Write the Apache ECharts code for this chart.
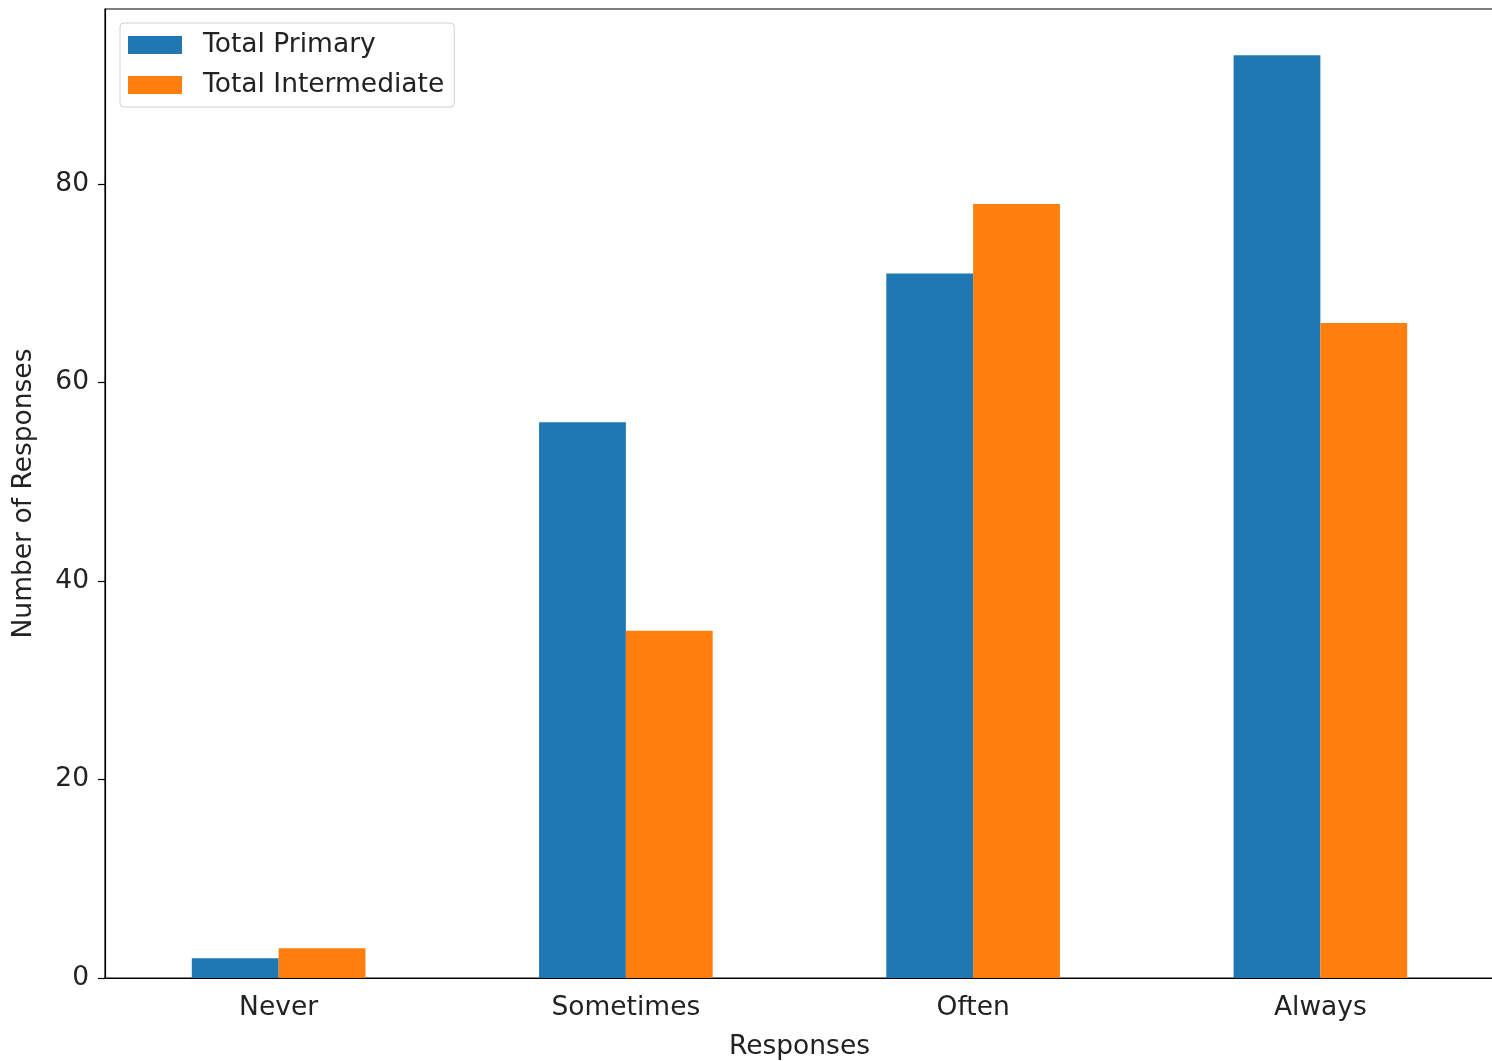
<!DOCTYPE html>
<html>
<head>
<meta charset="utf-8">
<script src="https://cdn.jsdelivr.net/npm/echarts@6/dist/echarts.min.js"></script>
<style>html,body{margin:0;padding:0;background:#fff;}#c{width:1492px;height:1061px;}</style>
</head>
<body>
<div id="c"></div>
<script>
const categories = ["Never", "Sometimes", "Often", "Always"];
const primary = [2, 56, 71, 93];
const intermediate = [3, 35, 78, 66];
const yTicks = [0, 20, 40, 60, 80];

const chart = echarts.init(document.getElementById('c'), null, {renderer: 'canvas'});
const font = 'DejaVu Sans';
const fs = 26.5;
chart.setOption({
  animation: false,
  textStyle: {fontFamily: font},
  grid: {left: 105, top: 9, right: -2, bottom: 83, outerBoundsMode: 'none', containLabel: false,
    show: true, borderColor: '#000', borderWidth: 1.2, backgroundColor: 'transparent'},
  legend: {
    left: 120, top: 23, orient: 'vertical', icon: 'rect',
    itemWidth: 54, itemHeight: 18, itemGap: 12,
    padding: [8, 10, 8, 8],
    borderColor: '#d0d0d0', borderWidth: 1, borderRadius: 4,
    textStyle: {fontFamily: font, fontSize: fs, lineHeight: 28, color: '#222', padding: [0, 0, 0, 16]},
    data: ['Total Primary', 'Total Intermediate']
  },
  xAxis: {
    type: 'category', data: categories, boundaryGap: true,
    name: 'Responses', nameLocation: 'middle', nameGap: 56,
    nameTextStyle: {fontFamily: font, fontSize: fs, color: '#222'},
    axisLine: {lineStyle: {color: '#000', width: 1.2}},
    axisTick: {alignWithLabel: true, length: 7, lineStyle: {color: '#000', width: 1.2}},
    axisLabel: {fontFamily: font, fontSize: fs, color: '#222', margin: 17},
    splitLine: {show: false}
  },
  yAxis: {
    type: 'value', min: 0, max: 97.65, interval: 20,
    name: 'Number of Responses', nameLocation: 'middle', nameGap: 67,
    nameTextStyle: {fontFamily: font, fontSize: fs, color: '#222'},
    axisLine: {show: true, lineStyle: {color: '#000', width: 1.2}},
    axisTick: {show: true, length: 7, lineStyle: {color: '#000', width: 1.2}},
    axisLabel: {fontFamily: font, fontSize: fs, color: '#222', margin: 16, showMaxLabel: false,
      formatter: v => yTicks.includes(v) ? String(v) : ''},
    splitLine: {show: false}
  },
  series: [
    {name: 'Total Primary', type: 'bar', data: primary, barWidth: '25%', barGap: '0%', itemStyle: {color: '#1f77b4'}},
    {name: 'Total Intermediate', type: 'bar', data: intermediate, barWidth: '25%', barGap: '0%', itemStyle: {color: '#ff7f0e'}}
  ]
});
</script>
</body>
</html>
